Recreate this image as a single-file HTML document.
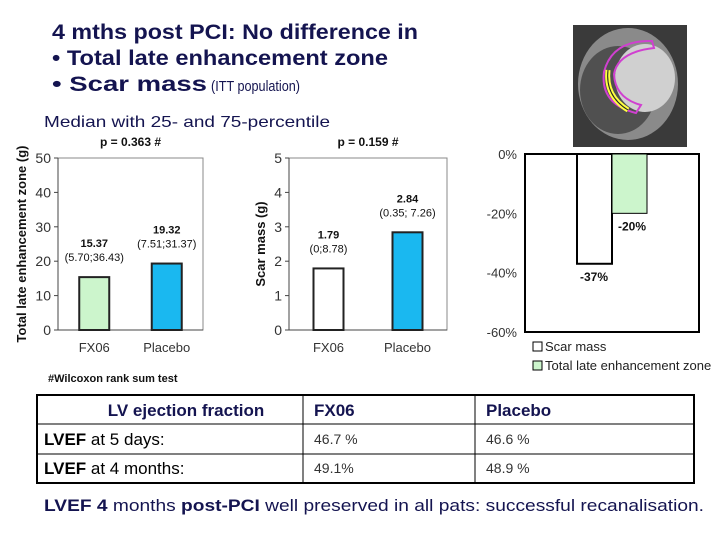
<!DOCTYPE html>
<html><head><meta charset="utf-8"><style>body{margin:0;background:#fff}svg{display:block;font-family:"Liberation Sans",Arial,sans-serif}</style></head>
<body>
<svg id="s" width="720" height="540" viewBox="0 0 720 540">
<g fill="#141450" font-weight="bold">
<text x="52" y="39" font-size="21" textLength="366" lengthAdjust="spacingAndGlyphs">4 mths post PCI: No difference in</text>
<text x="52" y="65" font-size="21" textLength="336" lengthAdjust="spacingAndGlyphs">• Total late enhancement zone</text>
<text x="52" y="91" font-size="21" textLength="155" lengthAdjust="spacingAndGlyphs">• Scar mass</text>
<text x="211" y="91" font-size="15" font-weight="normal" textLength="89" lengthAdjust="spacingAndGlyphs">(ITT population)</text>
</g>
<text x="44" y="127" font-size="16" fill="#141450" textLength="286" lengthAdjust="spacingAndGlyphs">Median with 25- and 75-percentile</text>
<g>
<rect x="573" y="25" width="114" height="122" fill="#3a3a3a"/>
<ellipse cx="628" cy="84" rx="50" ry="56" fill="#8a8a8a"/>
<ellipse cx="618" cy="90" rx="38" ry="44" fill="#2a2a2a" opacity="0.6"/>
<ellipse cx="645" cy="78" rx="30" ry="34" fill="#d0d0d0"/>
<path d="M652 41 Q612 40 604 72 Q600 104 636 113 L641 105 Q615 98 614 74 Q618 52 654 48 Z" fill="none" stroke="#d040d0" stroke-width="2"/>
<path d="M608 70 Q605 96 628 110" fill="none" stroke="#ffff40" stroke-width="5"/>
<path d="M608 70 Q605 96 628 110" fill="none" stroke="#222" stroke-width="1"/>
</g>
<g id="c1"></g><g id="c2"></g><g id="c3"></g>
<text x="48" y="382" font-size="11" font-weight="bold" fill="#111">#Wilcoxon rank sum test</text>
<g font-size="17" fill="#141450">
<rect x="37" y="395" width="657" height="88" fill="#fff" stroke="#000" stroke-width="2"/>
<line x1="37" y1="424" x2="694" y2="424" stroke="#000"/>
<line x1="37" y1="454" x2="694" y2="454" stroke="#000"/>
<line x1="303" y1="395" x2="303" y2="483" stroke="#000"/>
<line x1="475" y1="395" x2="475" y2="483" stroke="#000"/>
<text x="186" y="416" text-anchor="middle" font-weight="bold">LV ejection fraction</text>
<text x="314" y="416" font-weight="bold">FX06</text>
<text x="486" y="416" font-weight="bold">Placebo</text>
<text x="44" y="445" fill="#000"><tspan font-weight="bold">LVEF</tspan> at 5 days:</text>
<text x="44" y="474" fill="#000"><tspan font-weight="bold">LVEF</tspan> at 4 months:</text>
<text x="314" y="444" font-size="14" fill="#333">46.7 %</text>
<text x="486" y="444" font-size="14" fill="#333">46.6 %</text>
<text x="314" y="473" font-size="14" fill="#333">49.1%</text>
<text x="486" y="473" font-size="14" fill="#333">48.9 %</text>
</g>
<text x="44" y="511" font-size="17" fill="#141450" textLength="660" lengthAdjust="spacingAndGlyphs"><tspan font-weight="bold">LVEF 4</tspan> months <tspan font-weight="bold">post-PCI</tspan> well preserved in all pats: successful recanalisation.</text>
</svg>
<script>
const ns="http://www.w3.org/2000/svg";
function mk(p,t,a,txt){const e=document.createElementNS(ns,t);for(const k in a)e.setAttribute(k,a[k]);if(txt!==undefined)e.textContent=txt;p.appendChild(e);return e;}
// chart 1
const c1Cats=["FX06","Placebo"];
const c1Vals=[15.37,19.32];
const c1Labels=[["15.37","(5.70;36.43)"],["19.32","(7.51;31.37)"]];
const c1Ticks=[0,10,20,30,40,50];
// chart 2
const c2Cats=["FX06","Placebo"];
const c2Vals=[1.79,2.84];
const c2Labels=[["1.79","(0;8.78)"],["2.84","(0.35; 7.26)"]];
const c2Ticks=[0,1,2,3,4,5];
// chart 3
const c3Series=["Scar mass","Total late enhancement zone"];
const c3Vals=[-37,-20];
const c3Ticks=[0,-20,-40,-60];

function barChart(g,o){
  const y=v=>o.y0-(v-o.min)/(o.max-o.min)*(o.y0-o.y1);
  mk(g,"rect",{x:o.x0,y:o.y1,width:o.x1-o.x0,height:o.y0-o.y1,fill:"#fff",stroke:"#888"});
  mk(g,"line",{x1:o.x0,y1:o.y1,x2:o.x0,y2:o.y0,stroke:"#444"});
  mk(g,"line",{x1:o.x0,y1:o.y0,x2:o.x1,y2:o.y0,stroke:"#444"});
  o.ticks.forEach(t=>{mk(g,"line",{x1:o.x0-4,y1:y(t),x2:o.x0,y2:y(t),stroke:"#444"});
    const tl=mk(g,"text",{x:o.x0-7,y:y(t)+5,"text-anchor":"end","font-size":14,fill:"#333"},String(t));
    });
  const bw=(o.x1-o.x0)/o.cats.length;
  o.cats.forEach((c,i)=>{
    const cx=o.x0+bw*(i+0.5);
    const r=mk(g,"rect",{x:cx-15,y:y(o.vals[i]),width:30,height:o.y0-y(o.vals[i]),fill:o.colors[i],stroke:"#222","stroke-width":2});
    
    const xl=mk(g,"text",{x:cx,y:o.y0+22,"text-anchor":"middle","font-size":13,fill:"#333"},c);
    
    const l1=mk(g,"text",{x:cx,y:y(o.vals[i])-30,"text-anchor":"middle","font-size":11,"font-weight":"bold",fill:"#111"},o.labels[i][0]);
    
    const l2=mk(g,"text",{x:cx,y:y(o.vals[i])-16,"text-anchor":"middle","font-size":11,fill:"#111"},o.labels[i][1]);
    
  });
  const pt=mk(g,"text",{x:(o.x0+o.x1)/2,y:o.y1-12,"text-anchor":"middle","font-size":12,"font-weight":"bold",fill:"#111"},o.p);
  
  const at=mk(g,"text",{x:0,y:0,transform:`translate(${o.ax},${(o.y0+o.y1)/2}) rotate(-90)`,"text-anchor":"middle","font-size":13,"font-weight":"bold",fill:"#111"},o.title);
  
}
const g1=document.getElementById("c1");

barChart(g1,{x0:58,x1:203,y0:330,y1:158,min:0,max:50,ticks:c1Ticks,cats:c1Cats,vals:c1Vals,labels:c1Labels,colors:["#ccf5cc","#1ab8f0"],p:"p = 0.363 #",title:"Total late enhancement zone (g)",ax:26});
const g2=document.getElementById("c2");

barChart(g2,{x0:289,x1:447,y0:330,y1:158,min:0,max:5,ticks:c2Ticks,cats:c2Cats,vals:c2Vals,labels:c2Labels,colors:["#fff","#1ab8f0"],p:"p = 0.159 #",title:"Scar mass (g)",ax:265});
// chart 3
const g3=document.getElementById("c3");

const X0=525,X1=699,Y0=154,Y1=332;
const y3=v=>Y0+(0-v)/60*(Y1-Y0);
mk(g3,"rect",{x:X0,y:Y0,width:X1-X0,height:Y1-Y0,fill:"#fff",stroke:"#000","stroke-width":2});
c3Ticks.forEach(t=>{const tl=mk(g3,"text",{x:X0-8,y:y3(t)+5,"text-anchor":"end","font-size":13,fill:"#333"},t+"%");
  });
const c3Colors=["#fff","#ccf5cc"];
c3Vals.forEach((v,i)=>{
  const bx=577+i*35;
  const r=mk(g3,"rect",{x:bx,y:Y0,width:35,height:y3(v)-Y0,fill:c3Colors[i],stroke:"#000","stroke-width":i===0?2:1});
  
  const l=mk(g3,"text",{x:bx+17+i*3,y:y3(v)+17,"text-anchor":"middle","font-size":12,"font-weight":"bold",fill:"#111"},v+"%");
  
});
c3Series.forEach((s,i)=>{
  const le=mk(g3,"g",{});
  
  mk(le,"rect",{x:533,y:342+i*19,width:9,height:9,fill:c3Colors[i],stroke:"#000"});
  mk(le,"text",{x:545,y:351+i*19,"font-size":13,fill:"#222"},s);
});
</script>
</body></html>
